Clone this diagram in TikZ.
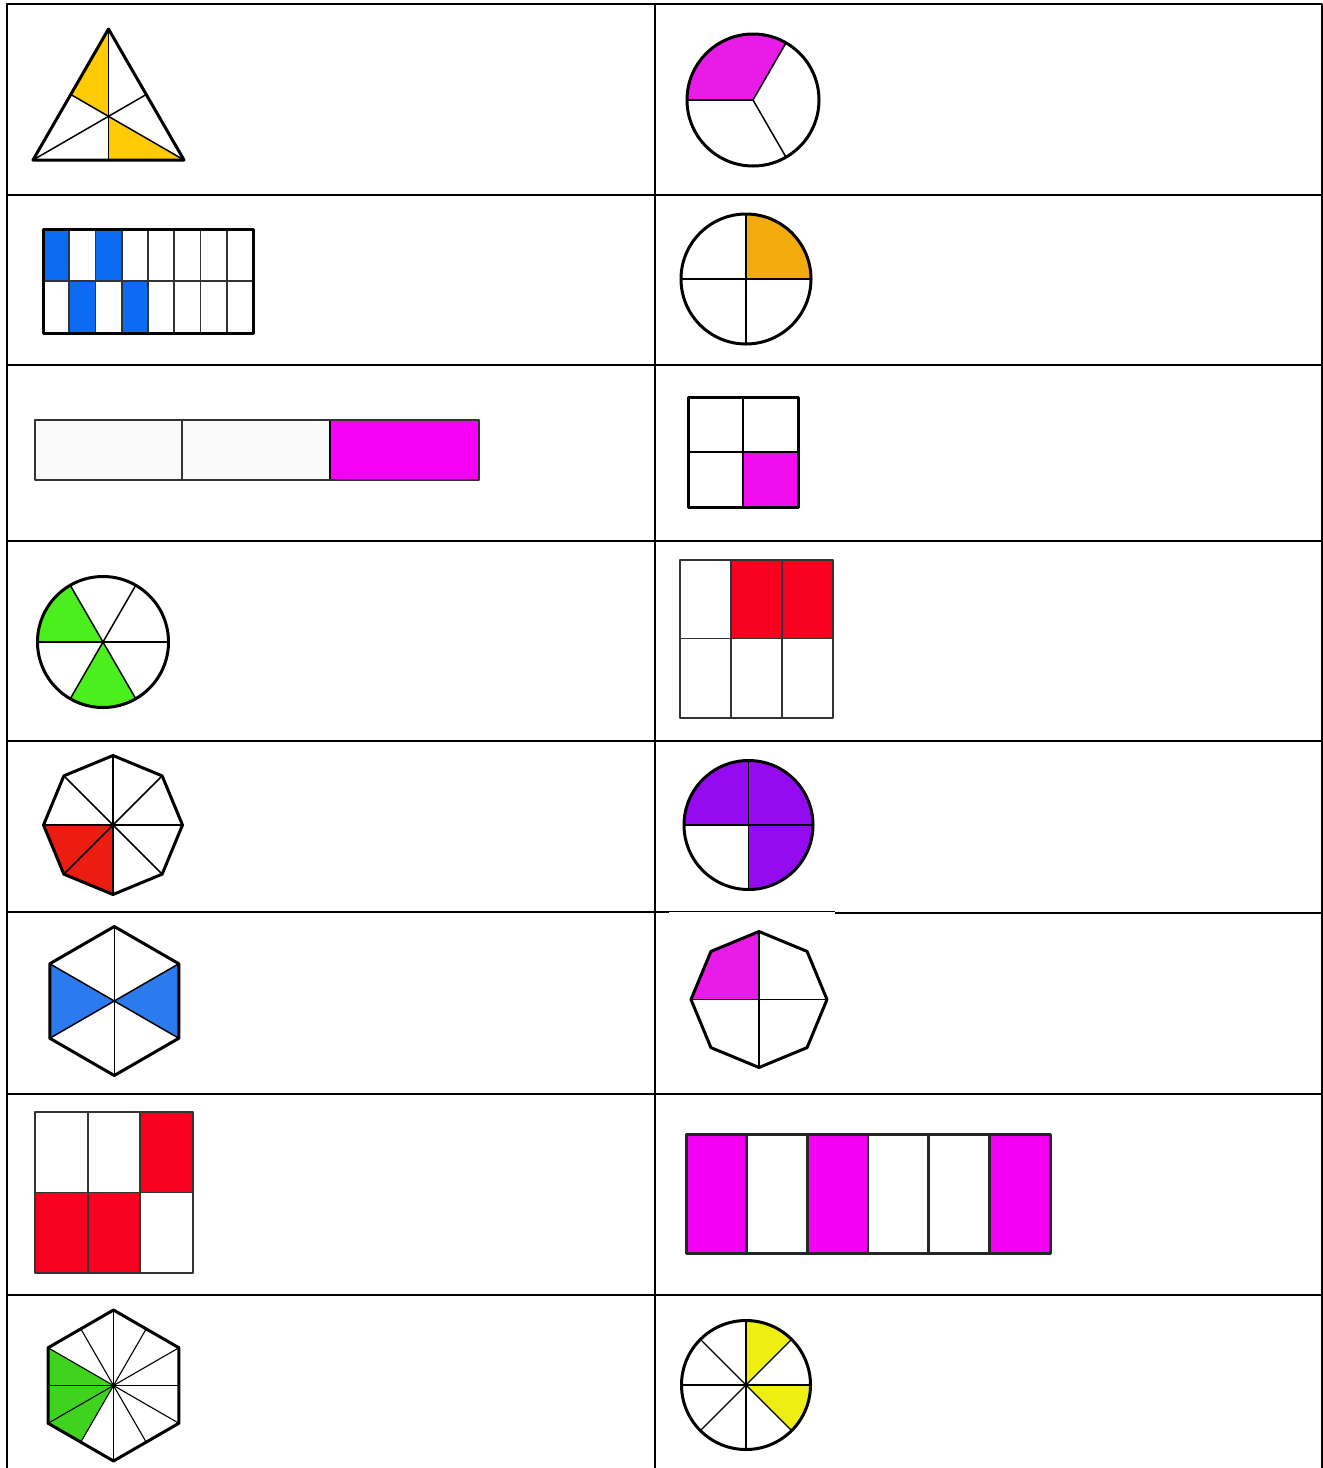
\documentclass[tikz,border=0pt]{standalone}
\usetikzlibrary{calc}
\definecolor{yelA}{HTML}{FFCB05}
\definecolor{magA}{HTML}{E81CE6}
\definecolor{bluA}{HTML}{0A6CF3}
\definecolor{ornA}{HTML}{F2AA0D}
\definecolor{magB}{HTML}{F600F6}
\definecolor{magC}{HTML}{F00EEE}
\definecolor{grnA}{HTML}{4BEF1E}
\definecolor{redA}{HTML}{F80020}
\definecolor{redB}{HTML}{EC1C10}
\definecolor{purA}{HTML}{950BF0}
\definecolor{bluB}{HTML}{2B7BEF}
\definecolor{grnB}{HTML}{3FD21E}
\definecolor{magD}{HTML}{F500F2}
\definecolor{yelB}{HTML}{EEEE12}
\definecolor{offwhite}{HTML}{FAFAFA}
\definecolor{dgray}{HTML}{333333}
\begin{document}
\begin{tikzpicture}[x=1pt,y=-1pt,line join=round,
  tablerule/.style={line width=2pt,black},
  outline/.style={line width=3pt,black},
  thinout/.style={line width=1.8pt,dgray},
  divider/.style={line width=1.5pt,black},
  gridline/.style={line width=1.7pt,dgray}]
\useasboundingbox (0,0) rectangle (1323,1468);
\fill[white] (0,0) rectangle (1323,1468);

% ---------- table ----------
\draw[tablerule] (7,1468) -- (7,4) -- (1322,4) -- (1322,1468);
\draw[tablerule] (655,4) -- (655,1468);
\foreach \yy in {195,365,541,741,1094,1295}
  \draw[tablerule] (7,\yy) -- (1322,\yy);
\draw[tablerule] (7,912) -- (669,912);
\draw[line width=0.8pt] (669,911.5) -- (835,911.5);
\draw[tablerule] (835,913) -- (1322,913);

% ---------- row 1 left: triangle ----------
\coordinate (tA) at (108.5,29);
\coordinate (tB) at (33,160);
\coordinate (tC) at (184,160);
\coordinate (tG) at (108.5,116.33);
\coordinate (mAB) at ($(tA)!0.5!(tB)$);
\coordinate (mAC) at ($(tA)!0.5!(tC)$);
\coordinate (mBC) at ($(tB)!0.5!(tC)$);
\fill[yelA] (tA) -- (mAB) -- (tG) -- cycle;
\fill[yelA] (tG) -- (mBC) -- (tC) -- cycle;
\draw[divider] (tA) -- (mBC);
\draw[divider] (tB) -- (mAC);
\draw[divider] (tC) -- (mAB);
\draw[outline] (tA) -- (tB) -- (tC) -- cycle;

% ---------- row 1 right: circle in thirds ----------
\begin{scope}[shift={(753,100)},yscale=-1]
  \fill[magA] (0,0) -- (60:66) arc[start angle=60,end angle=180,radius=66] -- cycle;
  \foreach \a in {60,180,300} \draw[divider] (0,0) -- (\a:66);
  \draw[outline] (0,0) circle[radius=66];
\end{scope}

% ---------- row 2 left: 8x2 grid ----------
\fill[bluA] (43,229) rectangle (69.25,281);
\fill[bluA] (95.5,229) rectangle (121.75,281);
\fill[bluA] (69.25,281) rectangle (95.5,333);
\fill[bluA] (121.75,281) rectangle (148,333);
\foreach \i in {1,...,7} \draw[gridline] ({43+26.25*\i},229) -- ({43+26.25*\i},333);
\draw[gridline] (43,281) -- (253,281);
\draw[outline] (43,229) rectangle (253,333);

% ---------- row 2 right: circle in quarters ----------
\begin{scope}[shift={(746,279)},yscale=-1]
  \fill[ornA] (0,0) -- (0:65) arc[start angle=0,end angle=90,radius=65] -- cycle;
  \draw[divider] (-65,0) -- (65,0);
  \draw[divider] (0,-65) -- (0,65);
  \draw[outline] (0,0) circle[radius=65];
\end{scope}

% ---------- row 3 left: bar in thirds ----------
\fill[offwhite] (35,420) rectangle (330,480);
\fill[magB] (330,420) rectangle (479,480);
\draw[thinout] (181.7,420) -- (181.7,480);
\draw[line width=2.2pt] (330,420) -- (330,480);
\draw[thinout] (35,420) rectangle (479,480);

% ---------- row 3 right: 2x2 square ----------
\fill[magC] (743,452) rectangle (798,507);
\draw[divider] (743,397) -- (743,507);
\draw[divider] (688,452) -- (798,452);
\draw[outline] (688,397) rectangle (798,507);

% ---------- row 4 left: circle in sixths ----------
\begin{scope}[shift={(103,642)},yscale=-1]
  \fill[grnA] (0,0) -- (120:65.5) arc[start angle=120,end angle=180,radius=65.5] -- cycle;
  \fill[grnA] (0,0) -- (240:65.5) arc[start angle=240,end angle=300,radius=65.5] -- cycle;
  \foreach \a in {0,60,120} \draw[divider] (\a:65.5) -- (\a+180:65.5);
  \draw[outline] (0,0) circle[radius=65.5];
\end{scope}

% ---------- row 4 right: 3x2 grid ----------
\fill[redA] (731,560) rectangle (833,638.5);
\draw[gridline] (731,560) -- (731,718);
\draw[gridline] (782,560) -- (782,718);
\draw[gridline] (680,638.5) -- (833,638.5);
\draw[thinout] (680,560) rectangle (833,718);

% ---------- row 5 left: octagon in eighths ----------
\begin{scope}[shift={(113,825)},yscale=-1]
  \fill[redB] (0,0) -- (180:69.5) -- (225:69.5) -- (270:69.5) -- cycle;
  \foreach \a in {0,45,90,135} \draw[divider] (\a:69.5) -- (\a+180:69.5);
  \draw[outline] (0:69.5) \foreach \a in {45,90,...,315} { -- (\a:69.5) } -- cycle;
\end{scope}

% ---------- row 5 right: circle three quarters ----------
\begin{scope}[shift={(748.5,825)},yscale=-1]
  \fill[purA] (0,0) -- (-90:64.5) arc[start angle=-90,end angle=180,radius=64.5] -- cycle;
  \draw[divider] (-64.5,0) -- (64.5,0);
  \draw[divider] (0,-64.5) -- (0,64.5);
  \draw[outline] (0,0) circle[radius=64.5];
\end{scope}

% ---------- row 6 left: hexagon in sixths ----------
\begin{scope}[shift={(114.3,1001)},yscale=-1]
  \fill[bluB] (0,0) -- (150:74.5) -- (210:74.5) -- cycle;
  \fill[bluB] (0,0) -- (-30:74.5) -- (30:74.5) -- cycle;
  \foreach \a in {30,90,150} \draw[divider] (\a:74.5) -- (\a+180:74.5);
  \draw[outline] (90:74.5) \foreach \a in {150,210,270,330} { -- (\a:74.5) } -- (30:74.5) -- cycle;
\end{scope}

% ---------- row 6 right: octagon in quarters ----------
\begin{scope}[shift={(759,999.5)},yscale=-1]
  \fill[magA] (0,0) -- (90:68) -- (135:68) -- (180:68) -- cycle;
  \draw[divider] (-68,0) -- (68,0);
  \draw[divider] (0,-68) -- (0,68);
  \draw[outline] (0:68) \foreach \a in {45,90,...,315} { -- (\a:68) } -- cycle;
\end{scope}

% ---------- row 7 left: 3x2 grid ----------
\fill[redA] (140.3,1112) rectangle (193,1192.5);
\fill[redA] (35,1192.5) rectangle (140.3,1273);
\draw[gridline] (87.7,1112) -- (87.7,1273);
\draw[gridline] (140.3,1112) -- (140.3,1273);
\draw[gridline] (35,1192.5) -- (193,1192.5);
\draw[thinout] (35,1112) rectangle (193,1273);

% ---------- row 7 right: six strips ----------
\fill[magD] (686,1134) rectangle (746.67,1253);
\fill[magD] (807.33,1134) rectangle (868,1253);
\fill[magD] (989.33,1134) rectangle (1050,1253);
\foreach \i in {1,...,5} \draw[line width=2.6pt,black!85] ({686+60.667*\i},1134) -- ({686+60.667*\i},1253);
\draw[line width=3pt,black!85] (686,1134) rectangle (1050,1253);

% ---------- row 8 left: hexagon in twelfths ----------
\begin{scope}[shift={(113.5,1385.5)},yscale=-1]
  \fill[grnB] (0,0) -- (150:75.5) -- (180:65.38) -- (210:75.5) -- (240:65.38) -- cycle;
  \foreach \a in {30,90,150} \draw[line width=1.1pt] (\a:75.5) -- (\a+180:75.5);
  \foreach \a in {0,60,120} \draw[line width=1.1pt] (\a:65.38) -- (\a+180:65.38);
  \draw[outline] (90:75.5) \foreach \a in {150,210,270,330} { -- (\a:75.5) } -- (30:75.5) -- cycle;
\end{scope}

% ---------- row 8 right: circle in eighths ----------
\begin{scope}[shift={(746,1385)},yscale=-1]
  \fill[yelB] (0,0) -- (45:64.5) arc[start angle=45,end angle=90,radius=64.5] -- cycle;
  \fill[yelB] (0,0) -- (-45:64.5) arc[start angle=-45,end angle=0,radius=64.5] -- cycle;
  \foreach \a in {0,45,90,135} \draw[line width=1.1pt] (\a:64.5) -- (\a+180:64.5);
  \draw[outline] (0,0) circle[radius=64.5];
\end{scope}
\end{tikzpicture}
\end{document}
